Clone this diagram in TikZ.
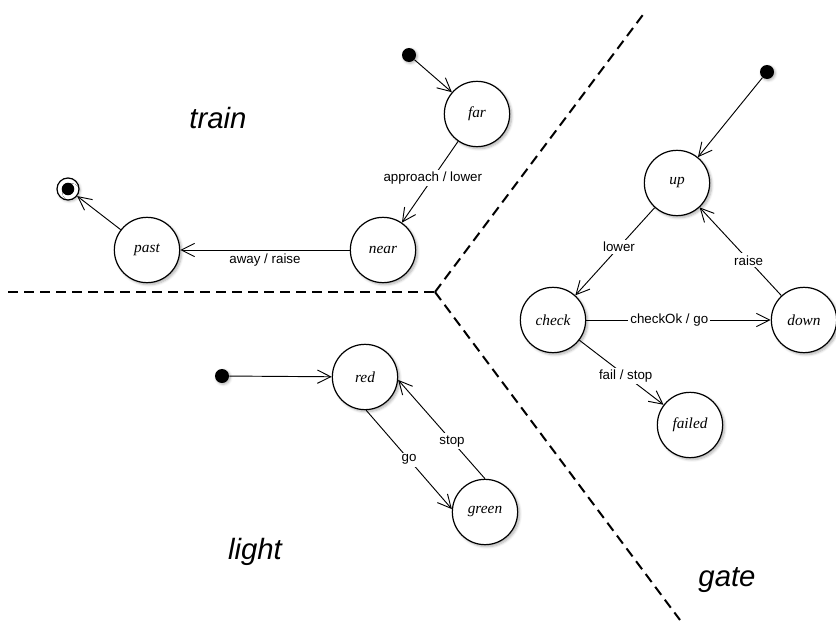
\documentclass[tikz,border=0pt]{standalone}
\usepackage{fontspec}
\setmainfont{Liberation Serif}
\setsansfont{Liberation Sans}
\usetikzlibrary{arrows.meta,shadows.blur}

\tikzset{
  state/.style={circle, draw, line width=0.9pt, fill=white, minimum size=49pt, inner sep=0pt,
    font=\fontsize{11.5}{13}\selectfont\itshape,
    blur shadow={shadow xshift=1.5pt, shadow yshift=-1.5pt, shadow blur steps=6, shadow opacity=30}},
  initdot/.style={circle, fill=black, minimum size=10.5pt, inner sep=0pt,
    blur shadow={shadow xshift=1pt, shadow yshift=-1pt, shadow blur steps=4, shadow opacity=30}},
  finaldot/.style={circle, draw, line width=0.9pt, fill=white, minimum size=16.5pt, inner sep=0pt,
    blur shadow={shadow xshift=1pt, shadow yshift=-1pt, shadow blur steps=4, shadow opacity=30}},
  trans/.style={line width=0.7pt, -{Straight Barb[length=10pt,width=10pt]}},
  lbl/.style={fill=white, inner sep=1.5pt, font=\sffamily\fontsize{10}{12}\selectfont},
  region/.style={font=\sffamily\itshape\fontsize{22}{24}\selectfont},
  border/.style={line width=1.5pt, dash pattern=on 7.5pt off 4.5pt}
}

\begin{document}
\begin{tikzpicture}[x=0.75pt,y=0.75pt,yscale=-1]
\useasboundingbox (0,0) rectangle (836,625);

%Dashed borders
\draw [border] (8,292) -- (435,292) ;
\draw [border] (435,292) -- (645,12) ;
\draw [border] (435,292) -- (680,620) ;

% Train
\node [initdot] (tdot) at (409,55) {};
\node [state] (far) at (477,114) {far};
\node [state] (near) at (383,250) {near};
\node [state] (past) at (147,250) {past};
\node [finaldot] (fin) at (68,189) {};
\node [initdot, minimum size=9.4pt, blur shadow={shadow opacity=0}] (finin) at (fin) {};

\draw [trans] (tdot) -- (far) ;
\draw [trans] (far) -- node [lbl, pos=0.45] {approach / lower} (near) ;
\draw [trans] (near) -- node [lbl, fill=none, below=1pt] {away / raise} (past) ;
\draw [trans] (past) -- (fin) ;

% Gate
\node [initdot] (gdot) at (767,72) {};
\node [state] (up) at (677,183) {up};
\node [state] (check) at (553,320) {check};
\node [state] (down) at (804,320) {down};
\node [state] (failed) at (690,425) {failed};

\draw [trans] (gdot) -- (up) ;
\draw [trans] (up) -- node [lbl, pos=0.45] {lower} (check) ;
\draw [trans] (down) -- node [lbl, pos=0.4] {raise} (up) ;
\draw [trans] (check) -- node [lbl, pos=0.45] {checkOk / go} (down) ;
\draw [trans] (check) -- node [lbl, pos=0.55] {fail / stop} (failed) ;

% Light
\node [initdot] (ldot) at (222,376) {};
\node [state] (red) at (365,377) {red};
\node [state] (green) at (485,512) {green};

\draw [trans] (ldot) -- (red) ;
\draw [trans] (red.-88) -- node [lbl] {go} (green.175) ;
\draw [trans] (green.90) -- node [lbl, pos=0.38] {stop} (red.-5) ;

% Text Node
\node [region] (train) at (218,118) {train};
% Text Node
\node [region] (light) at (255,552) {light};
% Text Node
\node [region] (gate) at (727,580) {gate};

\end{tikzpicture}
\end{document}
